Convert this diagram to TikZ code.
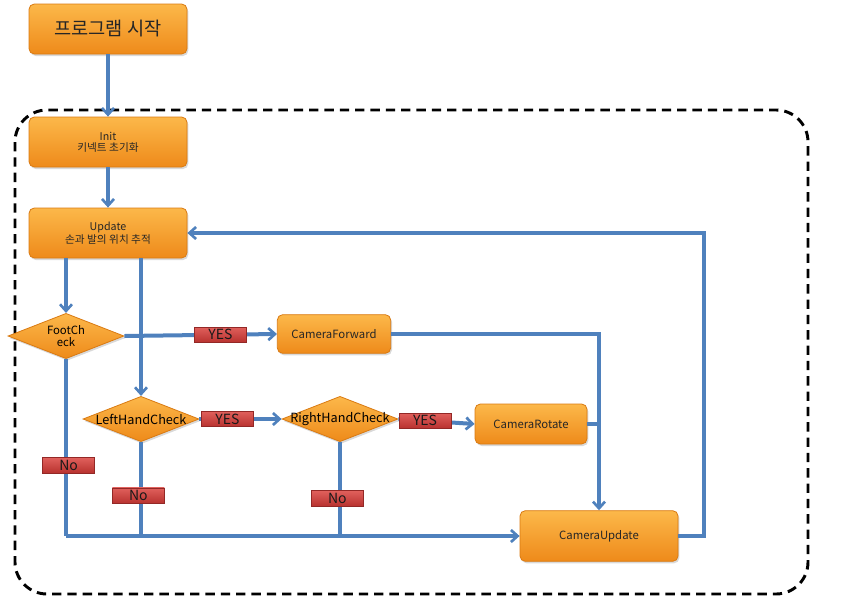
\documentclass[tikz,border=0pt]{standalone}
\usepackage{fontspec}
\setmainfont{Noto Sans CJK KR}
\usepackage{tikz}
\usetikzlibrary{shapes,arrows.meta,shadows}
\definecolor{flow}{HTML}{4F81BD}
\definecolor{orgtop}{HTML}{FCB84A}
\definecolor{orgbot}{HTML}{EE8A1A}
\definecolor{orgline}{HTML}{D97A12}
\definecolor{redtop}{HTML}{E0605C}
\definecolor{redbot}{HTML}{B8322F}
\newcommand{\KR}[1]{\fontsize{#1}{#1}\selectfont}

\begin{document}
\begin{tikzpicture}[x=0.75pt, y=-0.75pt,
  >={Straight Barb[length=5pt, width=9pt, line width=2pt]},
  box/.style={draw=orgline, line width=0.6pt, rounded corners=4pt,
    top color=orgtop, bottom color=orgbot, text=black!85,
    align=center, inner sep=0pt,
    drop shadow={shadow xshift=1pt, shadow yshift=-1.5pt, opacity=0.3}},
  check/.style={draw=orgline, line width=0.6pt, shape=diamond, aspect=2.5,
    inner sep=0pt, minimum width=87pt, minimum height=34pt,
    top color=orgtop, bottom color=orgbot,
    drop shadow={shadow xshift=1pt, shadow yshift=-1.5pt, opacity=0.3}},
  tag/.style={draw=redbot!80!black, line width=0.5pt,
    top color=redtop, bottom color=redbot, text=black!90,
    inner sep=0pt, minimum width=39pt, minimum height=11.5pt, font=\KR{10.5}},
  flowline/.style={draw=flow, line width=3pt}]

  \useasboundingbox (0,0) rectangle (852,604);

  %% frame
  \draw[line width=2.2pt, dash pattern=on 7pt off 4.5pt, rounded corners=24pt]
    (15,110) rectangle (808,594);

  \node[box, minimum width=118.5pt, minimum height=37.5pt, font=\KR{14}] (start) at (108,29) {프로그램 시작};
  \node[box, minimum width=118.5pt, minimum height=37.5pt, font=\KR{8}] (init) at (108,142) {Init\\키넥트 초기화};
  \node[box, minimum width=118.5pt, minimum height=37.5pt, font=\KR{8}] (update) at (108,233) {Update\\손과 발의 위치 추적};

  \node[check, label={[font=\KR{8.5}, align=center]center:FootCh\\eck}] (foot) at (66,336) {};
  \node[check, label={[font=\KR{9.5}]center:LeftHandCheck}] (left) at (141,419) {};
  \node[check, label={[font=\KR{9.5}]center:RightHandCheck}] (right) at (340,419) {};

  \node[box, minimum width=85pt, minimum height=29pt, font=\KR{8.5}] (camF) at (334,334) {CameraForward};
  \node[box, minimum width=84pt, minimum height=30pt, font=\KR{8.5}] (camR) at (531,424) {CameraRotate};
  \node[box, minimum width=118.5pt, minimum height=38pt, font=\KR{8.5}] (camU) at (599,536) {CameraUpdate};

  \coordinate (back) at (704,536);

  \draw[flowline, ->] (start) -- (init); %% start->init
  \draw[flowline, ->] (init) -- (update); %% init->update
  \draw[flowline, ->] (update.south -| foot.north) -- (foot.north); %% update->foot
  \draw[flowline, ->] (update.south -| left.north) -- (left.north); %% update->left

  \draw[flowline, ->] (foot.east) -- node[tag, pos=0.63]{YES} (camF.west); %% foot->camF
  \draw[flowline, ->] (left.east) -- node[tag, pos=0.34]{YES} (right.west); %% left->right
  \draw[flowline, ->] (right.east) -- node[tag, pos=0.35]{YES} (camR.west); %% right->camR

  \draw[flowline, ->] (camF.east) -| (camU.north); %% camF->camU
  \draw[flowline] (camR.east) -- (camR.east -| camU.north); %% camR->camU
  \draw[flowline, ->] (camU.east) -- (back) |- (update.east); %% camU->update

  \draw[flowline] (foot.south) -- node[tag, pos=0.6, xshift=2pt]{No} (foot |- camU); %% foot no
  \draw[flowline] (left.south) -- node[tag, pos=0.57, xshift=-2pt]{No} (left |- camU); %% left no
  \draw[flowline] (right.south) -- node[tag, pos=0.6, xshift=-2pt]{No} (right |- camU); %% right no
  \draw[flowline, ->] (foot |- camU) -- (camU.west); %% no->camU
\end{tikzpicture}
\end{document}
